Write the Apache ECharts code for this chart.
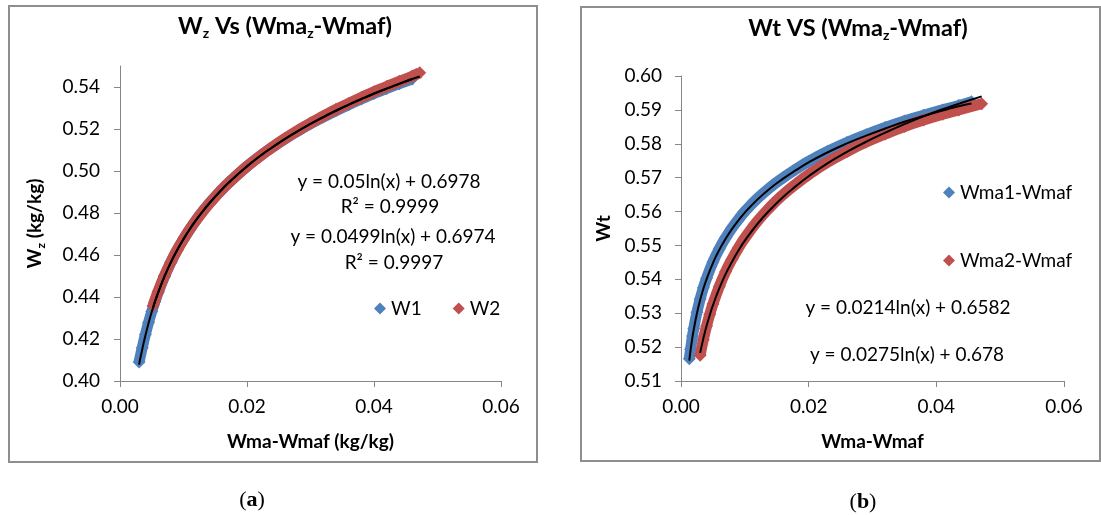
<!DOCTYPE html>
<html>
<head>
<meta charset="utf-8">
<script src="https://cdn.jsdelivr.net/npm/echarts@6/dist/echarts.min.js"></script>
<style>
  html, body { margin: 0; padding: 0; background: #fff; }
  #main { width: 1101px; height: 515px; }
</style>
</head>
<body>
<div id="main"></div>
<script>
// (a) Wz vs (Wmaz - Wmaf)
const w1X = [0.003, 0.0035, 0.004, 0.0045, 0.005, 0.0055, 0.006, 0.007, 0.008, 0.009, 0.010, 0.011, 0.012, 0.013, 0.014, 0.015, 0.016, 0.017, 0.018, 0.019, 0.020, 0.022, 0.024, 0.026, 0.028, 0.030, 0.032, 0.034, 0.036, 0.038, 0.040, 0.042, 0.044, 0.046]
const w1Y = [0.4090, 0.4158, 0.4222, 0.4279, 0.4331, 0.4378, 0.4421, 0.4497, 0.4564, 0.4623, 0.4675, 0.4723, 0.4767, 0.4807, 0.4844, 0.4878, 0.4910, 0.4941, 0.4969, 0.4996, 0.5022, 0.5070, 0.5113, 0.5153, 0.5190, 0.5225, 0.5257, 0.5287, 0.5316, 0.5343, 0.5369, 0.5393, 0.5416, 0.5438]
const w1TrendY = [0.4078, 0.4151, 0.4217, 0.4276, 0.4329, 0.4377, 0.4420, 0.4497, 0.4564, 0.4623, 0.4675, 0.4723, 0.4767, 0.4807, 0.4844, 0.4878, 0.4910, 0.4941, 0.4969, 0.4996, 0.5022, 0.5070, 0.5113, 0.5153, 0.5190, 0.5225, 0.5257, 0.5287, 0.5316, 0.5343, 0.5369, 0.5393, 0.5416, 0.5438]
const w2X = [0.0052, 0.006, 0.007, 0.008, 0.009, 0.010, 0.011, 0.012, 0.013, 0.014, 0.015, 0.016, 0.017, 0.018, 0.019, 0.020, 0.022, 0.024, 0.026, 0.028, 0.030, 0.032, 0.034, 0.036, 0.038, 0.040, 0.042, 0.044, 0.046, 0.0472]
const w2Y = [0.4358, 0.4426, 0.4501, 0.4566, 0.4624, 0.4676, 0.4723, 0.4766, 0.4806, 0.4843, 0.4877, 0.4910, 0.4940, 0.4968, 0.4996, 0.5022, 0.5070, 0.5114, 0.5155, 0.5193, 0.5228, 0.5261, 0.5293, 0.5322, 0.5350, 0.5377, 0.5402, 0.5427, 0.5451, 0.5468]
const w2TrendY = [0.4350, 0.4421, 0.4498, 0.4565, 0.4624, 0.4676, 0.4724, 0.4767, 0.4807, 0.4844, 0.4878, 0.4911, 0.4941, 0.4969, 0.4996, 0.5022, 0.5070, 0.5113, 0.5153, 0.5190, 0.5224, 0.5256, 0.5287, 0.5315, 0.5342, 0.5368, 0.5392, 0.5415, 0.5438, 0.5450]
const leftYTicks = [0.40, 0.42, 0.44, 0.46, 0.48, 0.50, 0.52, 0.54]
const leftEquations = ['y = 0.05ln(x) + 0.6978', 'R² = 0.9999', 'y = 0.0499ln(x) + 0.6974', 'R² = 0.9997']

// (b) Wt vs (Wmaz - Wmaf)
const m1X = [0.0013, 0.0015, 0.0018, 0.002, 0.0025, 0.003, 0.0035, 0.004, 0.005, 0.006, 0.007, 0.008, 0.009, 0.010, 0.012, 0.014, 0.016, 0.018, 0.020, 0.023, 0.026, 0.029, 0.032, 0.035, 0.038, 0.041, 0.0435, 0.0455]
const m1Y = [0.5166, 0.5194, 0.5233, 0.5255, 0.5303, 0.5342, 0.5375, 0.5403, 0.5451, 0.5490, 0.5523, 0.5552, 0.5577, 0.5600, 0.5639, 0.5672, 0.5700, 0.5725, 0.5748, 0.5778, 0.5804, 0.5827, 0.5848, 0.5867, 0.5884, 0.5900, 0.5913, 0.5924]
const m1TrendY = [0.5160, 0.5191, 0.5230, 0.5252, 0.5300, 0.5339, 0.5372, 0.5400, 0.5448, 0.5487, 0.5520, 0.5549, 0.5574, 0.5597, 0.5636, 0.5669, 0.5697, 0.5722, 0.5745, 0.5775, 0.5801, 0.5824, 0.5845, 0.5865, 0.5882, 0.5898, 0.5911, 0.5919]
const m2X = [0.003, 0.0035, 0.004, 0.0045, 0.005, 0.006, 0.007, 0.008, 0.009, 0.010, 0.012, 0.014, 0.016, 0.018, 0.020, 0.023, 0.026, 0.029, 0.032, 0.035, 0.038, 0.041, 0.0435, 0.0471]
const m2Y = [0.5176, 0.5222, 0.5262, 0.5296, 0.5327, 0.5379, 0.5423, 0.5460, 0.5493, 0.5522, 0.5572, 0.5614, 0.5650, 0.5681, 0.5709, 0.5746, 0.5777, 0.5805, 0.5829, 0.5851, 0.5870, 0.5887, 0.5900, 0.5918]
const m2TrendY = [0.5183, 0.5225, 0.5262, 0.5294, 0.5323, 0.5373, 0.5416, 0.5452, 0.5485, 0.5514, 0.5564, 0.5606, 0.5643, 0.5675, 0.5704, 0.5743, 0.5776, 0.5806, 0.5833, 0.5858, 0.5881, 0.5902, 0.5918, 0.5940]
const rightEquations = ['y = 0.0214ln(x) + 0.6582', 'y = 0.0275ln(x) + 0.678']

const FONT = 'Lato'
const FS = 19
const BLUE = '#4F81BD'
const RED = '#C0504D'
const AXIS_GREY = '#868686'

const zip = (xs, ys) => xs.map((x, i) => [x, ys[i]])

const rich = {
  b: { fontFamily: FONT, fontWeight: 'bold', fontSize: FS, color: '#000', lineHeight: 24 },
  s: { fontFamily: FONT, fontWeight: 'bold', fontSize: 12, color: '#000', lineHeight: 4, verticalAlign: 'bottom' }
}
const titleRich = {
  b: { fontFamily: FONT, fontWeight: 'bold', fontSize: 23.5, color: '#000', lineHeight: 28 },
  s: { fontFamily: FONT, fontWeight: 'bold', fontSize: 14, color: '#000', lineHeight: 4, verticalAlign: 'bottom' }
}
const eqStyle = { align: 'center', verticalAlign: 'middle', fontFamily: FONT, fontSize: FS, fill: '#000' }

function xAxisOpt (grid, name) {
  return {
    type: 'value',
    gridIndex: grid,
    min: 0,
    max: 0.06,
    interval: 0.02,
    name: name,
    nameLocation: 'middle',
    nameGap: 51,
    nameTextStyle: { fontFamily: FONT, fontWeight: 'bold', fontSize: FS, color: '#000' },
    axisLine: { show: true, lineStyle: { color: AXIS_GREY, width: 1 } },
    axisTick: { show: true, length: 6, lineStyle: { color: AXIS_GREY } },
    axisLabel: { fontFamily: FONT, fontSize: FS, color: '#000', margin: 16, formatter: v => v.toFixed(2) },
    splitLine: { show: false }
  }
}

function bandSeries (name, x, y, color, xi, z) {
  return {
    name: name,
    type: 'line',
    xAxisIndex: xi,
    yAxisIndex: xi,
    data: zip(x, y),
    smooth: true,
    symbol: 'diamond',
    symbolSize: 13,
    color: color,
    itemStyle: { color: color },
    lineStyle: { color: color, width: 11 },
    z: z
  }
}

function trendSeries (name, x, y, xi) {
  return {
    name: name,
    type: 'line',
    xAxisIndex: xi,
    yAxisIndex: xi,
    data: zip(x, y),
    smooth: true,
    showSymbol: false,
    symbol: 'none',
    lineStyle: { color: '#000', width: 2 },
    z: 10
  }
}

const chart = echarts.init(document.getElementById('main'))

const option = {
  animation: false,
  backgroundColor: '#fff',
  title: [{
    text: '{b|W}{s|z}{b| Vs (Wma}{s|z}{b|-Wmaf)}',
    left: 285,
    top: 12,
    textAlign: 'center',
    padding: 0,
    textStyle: { rich: titleRich }
  }, {
    text: '{b|Wt VS (Wma}{s|z}{b|-Wmaf)}',
    left: 858,
    top: 14,
    textAlign: 'center',
    padding: 0,
    textStyle: { rich: titleRich }
  }],
  legend: [{
    data: ['W1', 'W2'],
    orient: 'horizontal',
    left: 369,
    top: 294,
    icon: 'diamond',
    itemWidth: 12,
    itemHeight: 12,
    itemGap: 31,
    textStyle: { fontFamily: FONT, fontSize: FS, color: '#000' }
  }, {
    data: ['Wma1-Wmaf', 'Wma2-Wmaf'],
    orient: 'vertical',
    left: 938,
    top: 178,
    icon: 'diamond',
    itemWidth: 12,
    itemHeight: 12,
    itemGap: 49,
    textStyle: { fontFamily: FONT, fontSize: FS, color: '#000' }
  }],
  grid: [
    { left: 120, top: 66, width: 381, height: 315 },
    { left: 681, top: 76, width: 383, height: 305 }
  ],
  xAxis: [
    xAxisOpt(0, 'Wma-Wmaf (kg/kg)'),
    xAxisOpt(1, 'Wma-Wmaf')
  ],
  yAxis: [{
    type: 'value',
    gridIndex: 0,
    min: 0.40,
    max: 0.55,
    interval: 0.02,
    name: '{b|W}{s|z}{b| (kg/kg)}',
    nameLocation: 'middle',
    nameGap: 73,
    nameTextStyle: { rich: rich },
    axisLine: { show: true, lineStyle: { color: AXIS_GREY, width: 1 } },
    axisTick: { show: true, length: 6, lineStyle: { color: AXIS_GREY }, customValues: leftYTicks },
    axisLabel: { fontFamily: FONT, fontSize: FS, color: '#000', margin: 20, customValues: leftYTicks, formatter: v => v.toFixed(2) },
    splitLine: { show: false }
  }, {
    type: 'value',
    gridIndex: 1,
    min: 0.51,
    max: 0.60,
    interval: 0.01,
    name: 'Wt',
    nameLocation: 'middle',
    nameGap: 68,
    nameTextStyle: { fontFamily: FONT, fontWeight: 'bold', fontSize: FS, color: '#000' },
    axisLine: { show: true, lineStyle: { color: AXIS_GREY, width: 1 } },
    axisTick: { show: true, length: 6, lineStyle: { color: AXIS_GREY } },
    axisLabel: { fontFamily: FONT, fontSize: FS, color: '#000', margin: 19, formatter: v => v.toFixed(2) },
    splitLine: { show: false }
  }],
  series: [
    bandSeries('W1', w1X, w1Y, BLUE, 0, 2),
    bandSeries('W2', w2X, w2Y, RED, 0, 3),
    trendSeries('W1 trend', w1X, w1TrendY, 0),
    trendSeries('W2 trend', w2X, w2TrendY, 0),
    bandSeries('Wma1-Wmaf', m1X, m1Y, BLUE, 1, 2),
    bandSeries('Wma2-Wmaf', m2X, m2Y, RED, 1, 3),
    trendSeries('Wma1 trend', m1X, m1TrendY, 1),
    trendSeries('Wma2 trend', m2X, m2TrendY, 1)
  ],
  graphic: [
    { type: 'rect', shape: { x: 9, y: 6, width: 528, height: 456 }, style: { fill: 'none', stroke: '#8e8e8e', lineWidth: 2 }, z: -1 },
    { type: 'rect', shape: { x: 581, y: 7, width: 519, height: 454 }, style: { fill: 'none', stroke: '#8e8e8e', lineWidth: 2 }, z: -1 },
    { type: 'text', x: 389, y: 182, style: Object.assign({ text: leftEquations[0] }, eqStyle) },
    { type: 'text', x: 390, y: 207, style: Object.assign({ text: leftEquations[1] }, eqStyle) },
    { type: 'text', x: 393, y: 237, style: Object.assign({ text: leftEquations[2] }, eqStyle) },
    { type: 'text', x: 394, y: 263, style: Object.assign({ text: leftEquations[3] }, eqStyle) },
    { type: 'text', x: 908, y: 308, style: Object.assign({ text: rightEquations[0] }, eqStyle) },
    { type: 'text', x: 907, y: 355, style: Object.assign({ text: rightEquations[1] }, eqStyle) },
    {
      type: 'text', x: 252, y: 500,
      style: {
        text: '{n|(}{b|a}{n|)}', align: 'center', verticalAlign: 'middle',
        rich: { n: { fontFamily: 'Liberation Serif', fontSize: 22, fill: '#000' }, b: { fontFamily: 'Liberation Serif', fontWeight: 'bold', fontSize: 22, fill: '#000' } }
      }
    },
    {
      type: 'text', x: 863, y: 502,
      style: {
        text: '{n|(}{b|b}{n|)}', align: 'center', verticalAlign: 'middle',
        rich: { n: { fontFamily: 'Liberation Serif', fontSize: 22, fill: '#000' }, b: { fontFamily: 'Liberation Serif', fontWeight: 'bold', fontSize: 22, fill: '#000' } }
      }
    }
  ]
}

chart.setOption(option)
window.addEventListener('resize', () => {
  chart.resize()
})
</script>
</body>
</html>
